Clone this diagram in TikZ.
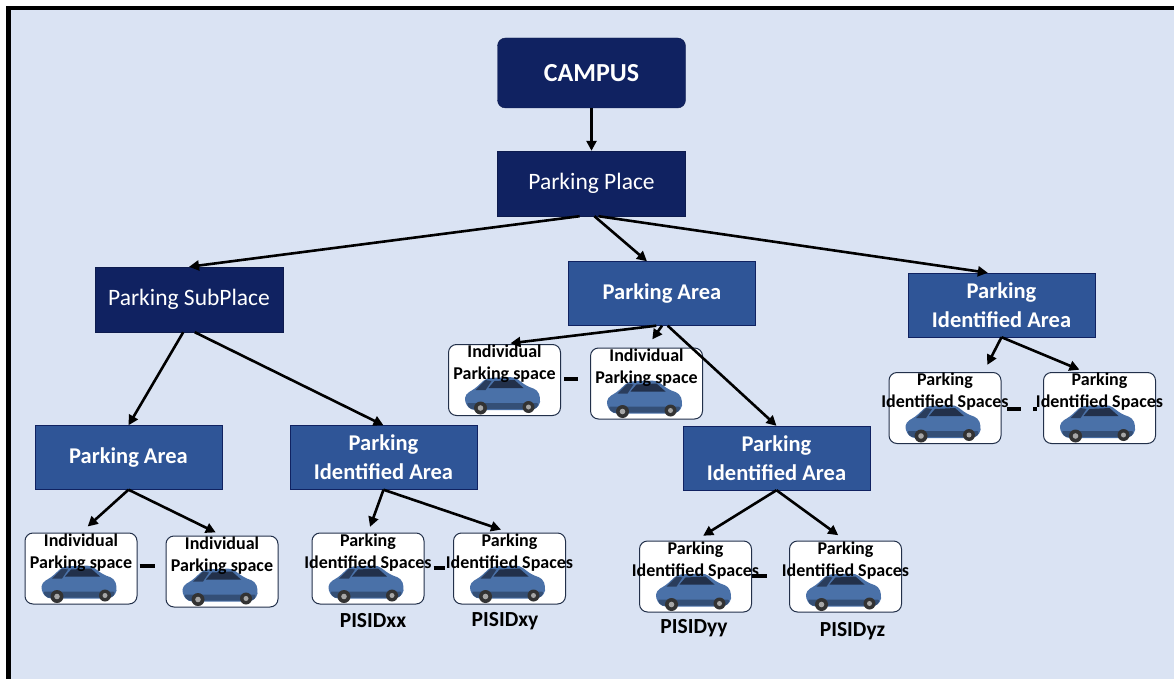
\documentclass[tikz,border=0pt]{standalone}
\usepackage{fontspec}
\setmainfont{Carlito}
\usetikzlibrary{arrows.meta}
\definecolor{bgblue}{HTML}{DAE3F3}
\definecolor{navy}{HTML}{102261}
\definecolor{midblue}{HTML}{2F5597}
\definecolor{carblue}{HTML}{4A71A8}
\definecolor{cardark}{HTML}{22304A}
\tikzset{
  topbox/.style={draw=navy!80!black,fill=navy,text=white,minimum width=188pt,minimum height=65pt,inner sep=0pt,font=\fontsize{23.5}{26}\selectfont},
  areabox/.style={draw=navy,fill=midblue,text=white,minimum width=187pt,minimum height=64pt,inner sep=0pt,align=center,font=\bfseries\fontsize{22.5}{29}\selectfont},
  spacebox/.style={draw=cardark,fill=white,rounded corners=8pt,minimum width=112pt,minimum height=71pt,inner sep=0pt,line width=1pt},
  spacetext/.style={anchor=north,align=center,inner sep=0pt,font=\bfseries\fontsize{18}{22}\selectfont},
  idtext/.style={inner sep=0pt,font=\bfseries\fontsize{21.5}{24}\selectfont},
  gap/.style={inner sep=0pt},
  arr/.style={line width=2.6pt,-{Triangle[length=10pt,width=10pt]}},
  car/.pic={
    \fill[carblue,rounded corners=4pt](-38,6)--(-37,-2)--(-28,-7)--(-16,-18)--(12,-19)--(24,-10)--(35,-6)--(38,2)--(37,10)--(30,14)--(-32,14)--cycle;
    \fill[carblue!70!black,rounded corners=2pt](-36,7)--(36,7)--(34,13)--(-33,13)--cycle;
    \fill[cardark](-14,-8)--(-8,-15)--(12,-16)--(21,-8)--cycle;
    \fill[cardark!80!carblue](-27,-6)--(-17,-16)--(-11,-15)--(-17,-6)--cycle;
    \fill[black!80](-22,12)circle(6.5);\fill[black!35](-22,12)circle(2.8);
    \fill[black!80](26,11)circle(6);\fill[black!35](26,11)circle(2.5);
  }
}
\begin{document}
\begin{tikzpicture}[x=1pt,y=-1pt]
\useasboundingbox(0,0)rectangle(1174,679);
\fill[white](0,0)rectangle(1174,679);
\fill[bgblue](8,8)rectangle(1174,679);
\draw[line width=4.5pt](8.5,679)--(8.5,8)--(1174,8);
% top levels
\node[topbox,rounded corners=8pt,minimum height=70pt,font=\bfseries\fontsize{26}{28}\selectfont](campus) at (591.5,73){CAMPUS};
\node[topbox](pp) at (591.5,183.5){Parking Place};
\node[topbox](sp) at (189,299.5){Parking SubPlace};
\node[areabox](pa1) at (128.5,457.5){Parking Area};
\node[areabox](pa2) at (662,293.5){Parking Area};
\node[areabox](pia1) at (383.5,457.5){Parking\\Identified Area};
\node[areabox](pia2) at (776.5,458){Parking\\Identified Area};
\node[areabox](pia3) at (1001.5,305){Parking\\Identified Area};
% spaces
\foreach \nm/\cx/\cy/\la/\lb in {sa/81/568.5/Individual/Parking space,sb/222/571.5/Individual/Parking space,
  sc/368/568.5/Parking/Identified Spaces,sd/509.5/568.5/Parking/Identified Spaces,
  se/504.5/380/Individual/Parking space,sf/646.5/383.5/Individual/Parking space,
  sg/695.5/576.5/Parking/Identified Spaces,sh/845.5/576.5/Parking/Identified Spaces,
  si/945/408/Parking/Identified Spaces,sj/1099.5/408/Parking/Identified Spaces}{
  \node[spacebox](\nm) at (\cx,\cy){};
  \pic at (\cx-2,\cy+16){car};
  \node[spacetext](\nm-t) at ([yshift=-1pt]\nm.north){\la\\\lb};
}
\foreach \nm/\cx/\cy/\dw in {dab/147/566/15,dcd/439/568/11,def/571/379/14,dgh/759.5/576/15,dij/1014/409/14,dot/1035/409/4}{
  \node[gap](\nm) at (\cx,\cy){\rule{\dw pt}{4pt}};
}
\foreach \nm/\cx/\cy/\tx in {idxx/373/621/PISIDxx,idxy/505/621/PISIDxy,idyy/694/628/PISIDyy,idyz/852.5/631/PISIDyz}{
  \node[idtext](\nm) at (\cx,\cy){\tx};
}
% arrows
\draw[arr](campus.south)--(pp.north);
\draw[arr](pp.-110)--(sp.north);
\draw[arr](pp.-85)--(pa2.115);
\draw[arr](pp.-78)--(pia3.113);
\draw[arr](sp.-100)--(pa1.north);
\draw[arr](sp.-80)--(pia1.north);
\draw[arr,shorten >=9pt](pa1.south)--(sa.north);
\draw[arr,shorten >=7pt](pa1.south)--(sb.north);
\draw[arr,shorten >=6pt](pia1.south)--(sc.north);
\draw[arr,shorten >=9pt](pia1.south)--(sd.north);
\draw[arr,shorten >=6pt](pa2.-100)--(se.north);
\draw[arr,shorten >=10pt](pa2.south)--(sf.north);
\draw[arr](pa2.-80)--(pia2.north);
\draw[arr,shorten >=9pt](pia2.south)--(sg.north);
\draw[arr,shorten >=9pt](pia2.south)--(sh.north);
\draw[arr,shorten >=8pt](pia3.south)--(si.43);
\draw[arr,shorten >=6pt](pia3.south)--(sj.112);
\end{tikzpicture}
\end{document}
